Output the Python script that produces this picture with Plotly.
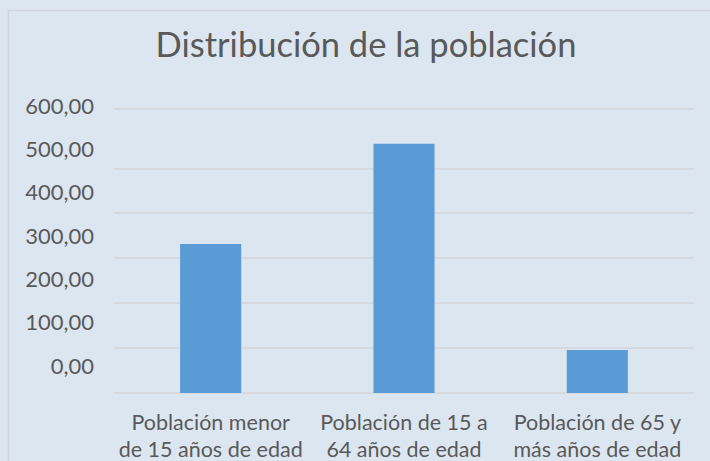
import plotly.graph_objects as go

categories = ["Población menor<br>de 15 años de edad",
              "Población de 15 a<br>64 años de edad",
              "Población de 65 y<br>más años de edad"]
values = [332, 555, 96]
grid_vals = [0, 100, 200, 300, 400, 500, 632.5]
label_vals = [0, 100, 200, 300, 400, 500, 600]
label_text = ["0,00", "100,00", "200,00", "300,00", "400,00", "500,00", "600,00"]

BG = "#dce6f1"
TXT = "#595959"
FONT = "Lato"

fig = go.Figure()
fig.add_trace(go.Bar(x=categories, y=values, marker=dict(color="#5b9bd5", line=dict(width=0)),
                     showlegend=False, hoverinfo="y"))
fig.add_trace(go.Scatter(x=[categories[0]], y=[None], yaxis="y2", showlegend=False,
                         mode="markers", hoverinfo="skip"))

fig.update_layout(
    width=710, height=461,
    paper_bgcolor=BG, plot_bgcolor=BG,
    margin=dict(l=114, r=16, t=100, b=68, autoexpand=False),
    bargap=0.684,
    title=dict(text="Distribución de la población", x=366 / 710, xanchor="center",
               y=1 - 45 / 461, yanchor="middle",
               font=dict(family=FONT, size=34.5, color=TXT)),
    font=dict(family=FONT, color=TXT),
    xaxis=dict(showgrid=False, showline=False, zeroline=False, ticks="", automargin=False,
               tickfont=dict(size=21.5, color=TXT), ticklabelstandoff=14),
    yaxis=dict(range=[0, 652.6], tickvals=grid_vals, showticklabels=False, automargin=False,
               showgrid=True, gridcolor="#d6d9de", gridwidth=2,
               zeroline=True, zerolinecolor="#d6d9de", zerolinewidth=2, ticks=""),
    yaxis2=dict(overlaying="y", side="left", range=[-62.4, 614.3], automargin=False,
                tickvals=label_vals, ticktext=label_text, showgrid=False,
                zeroline=False, showline=False, ticks="",
                tickfont=dict(size=22, color=TXT), ticklabelstandoff=19),
    shapes=[dict(type="rect", xref="paper", yref="paper",
                 x0=(8.5 - 114) / 580, x1=(720 - 114) / 580,
                 y0=(393 - 480) / 293, y1=(393 - 10.5) / 293,
                 line=dict(color="#d0d4da", width=1.5), layer="below")],
)

fig.write_html("out.html", config={"displayModeBar": False},
               post_script="document.body.style.margin='0';document.body.style.background='%s';" % BG)
